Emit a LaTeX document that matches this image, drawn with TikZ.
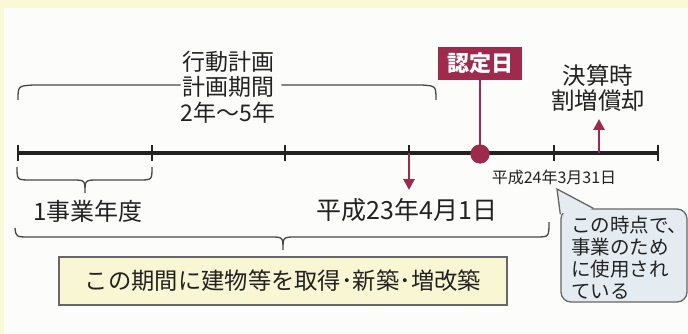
\documentclass[tikz,border=0pt]{standalone}
\usepackage{fontspec}
\setmainfont{Noto Sans CJK JP}
\usetikzlibrary{arrows.meta,calc}
\definecolor{crim}{HTML}{9E2A4E}
\definecolor{bgy}{HTML}{FBF8D6}
\definecolor{innerbg}{HTML}{FCFCFA}
\definecolor{boxy}{HTML}{F9F7D3}
\definecolor{boxline}{HTML}{666666}
\definecolor{callb}{HTML}{E4ECF1}
\definecolor{txt}{HTML}{222222}
\definecolor{braceg}{HTML}{474747}
\tikzset{
  lbl/.style={inner sep=0pt, align=center, text=txt},
  bracepath/.style={draw=braceg, line width=1.3pt},
  tickmark/.style={draw=txt, line width=1.8pt},
  redarrow/.style={draw=crim, line width=2.8pt, -{Triangle[width=11pt,length=11pt]}},
}
\begin{document}
\begin{tikzpicture}[x=1pt,y=-1pt]
\useasboundingbox (0,0) rectangle (688,334);
\fill[bgy] (0,0) rectangle (688,334);
\fill[innerbg] (4,8) rectangle (688,334);

% timeline
\coordinate (t0) at (18,153);
\coordinate (t1) at (152,153);
\coordinate (t2) at (285,153);
\coordinate (t3) at (409,153);
\coordinate (t4) at (554,153);
\coordinate (t5) at (658,153);
\coordinate (t6) at (599,153);
\draw[draw=txt, line width=3.6pt] (t0) -- (t5);
\foreach \c in {t0,t1,t2,t3,t4,t5}
  \draw[tickmark] ($(\c)+(0,-8)$) -- ($(\c)+(0,8)$);

% upper bracket and plan text
\node[lbl, font=\fontsize{23}{25.5}\selectfont] (plan) at (228,87) {行動計画\\計画期間\\2年〜5年};
\draw[bracepath] (18,100) .. controls (18,86) .. (33,85) -- (plan.west |- 0,85);
\draw[bracepath] ([xshift=6pt]plan.east |- 0,85) -- (422,85) .. controls (436,86) .. (436,100);

% nintei
\node[fill=crim, text=white, minimum width=84pt, minimum height=33pt, inner sep=0pt,
      font=\fontsize{22}{24}\bfseries\selectfont] (nintei) at (480,63.5) {認定日};
\node[circle, fill=crim, minimum size=19pt, inner sep=0pt] (dot) at (480,154) {};
\draw[draw=crim, line width=1.6pt] (nintei.south) -- (dot.center);
\node[circle, fill=crim, minimum size=19pt, inner sep=0pt] at (dot) {};

% kessan
\node[lbl, font=\fontsize{23.5}{25}\selectfont] (kessan) at (598,88) {決算時\\割増償却};
\coordinate (uptip) at (599,119);
\draw[redarrow] (t6) -- (uptip);

% 平成23年4月1日
\coordinate (downtip) at (409,190);
\draw[redarrow] (t3) -- (downtip);
\node[lbl, font=\fontsize{25}{27}\selectfont] (d23) at (407,210) {平成23年4月1日};

% 平成24年3月31日
\node[lbl, font=\fontsize{16}{18}\selectfont] (d24) at (554,177) {平成24年3月31日};

% small brace
\draw[bracepath] (17,167) .. controls (17,180) .. (31,180) -- (72,180)
  .. controls (85,180) .. (85,193) .. controls (85,180) .. (98,180)
  -- (139,180) .. controls (152,180) .. (152,167);
\node[lbl, font=\fontsize{24}{26}\selectfont] (jigyo) at (88,211) {1事業年度};

% big brace
\draw[bracepath] (15,228) .. controls (16,237) .. (30,237) -- (270,237)
  .. controls (283,237) .. (283,250) .. controls (283,237) .. (296,237)
  -- (536,237) .. controls (549,237) .. (549,222);

% acquisition box
\node[draw=boxline, fill=boxy, line width=1.2pt, minimum width=448pt, minimum height=48pt,
      inner sep=0pt, text=txt, font=\fontsize{23.3}{25}\selectfont] (acq) at (283,281)
      {この期間に建物等を取得･新築･増改築};

% callout
\node[draw=boxline, fill=callb, line width=1.3pt, rounded corners=10pt,
      minimum width=126pt, minimum height=93pt, inner sep=0pt] (note) at (624,255.5) {};
\coordinate (tip) at (557,189);
\fill[callb] ($(note.north west)+(0.6,4)$) -- (tip) -- ($(note.north west)+(32,0.6)$) -- ($(note.north west)+(14,8)$) -- cycle;
\draw[draw=boxline, line width=1.3pt] ($(note.north west)+(0,6)$) -- (tip) -- ($(note.north west)+(33,0)$);
\node[lbl, align=left, anchor=north west, font=\fontsize{19.5}{22}\selectfont] (notetext) at (571,216)
  {この時点で、\\事業のため\\に使用され\\ている};
\end{tikzpicture}
\end{document}
